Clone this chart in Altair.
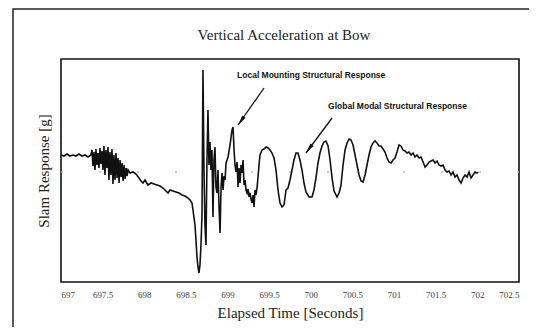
import altair as alt
import pandas as pd

# Elapsed time [s] and slam response [g]
time_s = [
    697.000, 697.036, 697.072, 697.108, 697.144, 697.180, 697.216, 697.252, 697.288, 697.324, 697.360,
    697.372, 697.384, 697.396, 697.408, 697.420, 697.432, 697.444, 697.456, 697.468, 697.480,
    697.492, 697.504, 697.516, 697.528, 697.540, 697.552, 697.564, 697.576, 697.588, 697.600,
    697.612, 697.624, 697.636, 697.649, 697.661, 697.673, 697.685, 697.697, 697.709, 697.721,
    697.733, 697.745, 697.757, 697.769, 697.781, 697.793, 697.805,
    697.829, 697.865, 697.901, 697.937, 697.961, 697.985, 698.009, 698.045, 698.081, 698.117,
    698.153, 698.189, 698.225, 698.261, 698.285, 698.309, 698.345, 698.381, 698.417, 698.453,
    698.489, 698.525, 698.549, 698.573, 698.585, 698.609, 698.621, 698.633, 698.645, 698.657,
    698.669, 698.681, 698.693, 698.705, 698.717, 698.729, 698.741, 698.753, 698.765, 698.777,
    698.789, 698.801, 698.813, 698.825, 698.837, 698.849, 698.861, 698.873, 698.885, 698.897,
    698.910, 698.922, 698.934, 698.946, 698.958, 698.970, 698.982, 699.006, 699.030, 699.054,
    699.066, 699.078, 699.090, 699.102, 699.114, 699.126, 699.138, 699.150, 699.162, 699.174,
    699.186, 699.198, 699.210, 699.222, 699.234, 699.246, 699.258, 699.270, 699.282, 699.294,
    699.306, 699.318, 699.330, 699.342, 699.354, 699.366, 699.378, 699.390, 699.414, 699.438,
    699.462, 699.486, 699.510, 699.534, 699.558, 699.582, 699.606, 699.630, 699.654, 699.678,
    699.702, 699.726, 699.750, 699.774, 699.798, 699.822, 699.846, 699.870, 699.894, 699.918,
    699.942, 699.978, 700.014, 700.038, 700.062, 700.086, 700.110, 700.134, 700.158, 700.182,
    700.207, 700.231, 700.255, 700.279, 700.315, 700.339, 700.363, 700.387, 700.411, 700.435,
    700.459, 700.483, 700.507, 700.531, 700.555, 700.579, 700.603, 700.627, 700.651, 700.675,
    700.699, 700.723, 700.747, 700.771, 700.795, 700.819, 700.843, 700.867, 700.891, 700.915,
    700.939, 700.963, 700.987, 701.011, 701.035, 701.059, 701.083, 701.107, 701.131, 701.155,
    701.179, 701.204, 701.228, 701.252, 701.276, 701.300, 701.324, 701.348, 701.372, 701.396,
    701.420, 701.444, 701.468, 701.492, 701.516, 701.540, 701.564, 701.588, 701.612, 701.636,
    701.660, 701.684, 701.708, 701.732, 701.756, 701.780, 701.804, 701.828, 701.852, 701.876,
    701.900, 701.924, 701.948, 701.972, 701.996, 702.008,
]
response_g = [
    0.85, 0.80, 0.90, 0.80, 0.85, 0.80, 0.90, 0.80, 0.85, 0.75, 0.85,
    1.10, 0.30, 1.00, 0.10, 1.15, 0.35, 0.95, 0.20, 1.20, 0.40,
    1.05, 0.10, 1.30, -0.15, 1.10, 0.20, 1.25, -0.40, 1.00, -0.15,
    1.15, -0.60, 0.85, -0.40, 0.95, -0.30, 0.70, -0.55, 0.60, -0.25,
    0.45, -0.45, 0.35, -0.35, 0.20, -0.20, 0.10,
    -0.05, 0.00, -0.10, -0.30, -0.45, -0.55, -0.40, -0.65, -0.55, -0.60,
    -0.65, -0.70, -0.80, -0.95, -1.05, -0.90, -0.95, -1.00, -1.05, -1.15,
    -1.20, -1.30, -1.40, -1.55, -1.90, -2.65, -3.40, -4.25, -4.75, -5.05,
    -4.65, -3.65, -2.15, 5.10, 0.10, -2.65, -3.65, 0.60, 3.10, 0.35,
    1.50, 0.10, 1.10, -2.25, 0.60, 1.25, -0.75, -1.05, 0.10, -1.65,
    -3.05, -0.75, -0.05, -0.90, -0.20, -0.40, 0.45, 0.75, 1.35, 2.10,
    2.25, 1.10, 0.35, 0.00, 0.50, -0.75, 0.20, -0.55, 0.35, -0.05,
    0.60, -0.65, -0.40, -0.90, -1.05, -0.85, -1.25, -1.05, -1.35, -1.55,
    -1.15, -1.75, -0.90, -1.15, -0.80, -0.25, 0.35, 0.85, 1.10, 1.15,
    1.25, 1.20, 1.10, 0.95, 0.70, 0.10, -0.90, -1.55, -1.75, -1.65,
    -0.90, -0.80, -0.40, 0.10, 0.60, 0.95, 0.95, 0.60, 0.10, -0.55,
    -1.00, -1.25, -1.25, -0.90, -0.30, 0.45, 0.95, 1.30, 1.50, 1.55,
    1.30, 0.60, -0.30, -0.95, -1.25, -1.05, -0.65, 0.35, 1.10, 1.45,
    1.65, 1.60, 1.35, 0.85, 0.35, -0.15, -0.45, -0.50, -0.15, 0.35,
    0.85, 1.25, 1.45, 1.55, 1.45, 1.30, 1.30, 1.15, 1.00, 0.70,
    0.50, 0.45, 0.60, 0.70, 1.00, 1.35, 1.30, 1.10, 1.05, 0.95,
    1.00, 0.85, 0.95, 0.75, 0.85, 0.70, 0.75, 0.50, 0.25, 0.35,
    0.50, 0.55, 0.60, 0.45, 0.55, 0.35, 0.30, 0.35, 0.10, 0.00,
    0.05, -0.15, 0.00, -0.25, -0.15, -0.40, -0.55, -0.30, -0.15, -0.25,
    0.00, -0.30, -0.15, 0.00, -0.05, 0.00,
]

x_ticks = [697, 697.5, 698, 698.5, 699, 699.5, 700, 700.5, 701, 701.5, 702, 702.5]

chart_title = "Vertical Acceleration at Bow"

note_text = ["Local Mounting Structural Response", "Global Modal Structural Response"]
note_t = [699.114, 700.207]
note_v = [4.85, 3.30]
arrow_t0 = [699.438, 700.255]
arrow_v0 = [4.20, 2.70]
arrow_t1 = [699.126, 699.942]
arrow_v1 = [2.35, 0.95]
head_t = [699.161, 699.977]
head_v = [2.555, 1.155]
head_angle = [215, 217]

df = pd.DataFrame({"t": time_s, "g": response_g})
notes = pd.DataFrame({"text": note_text, "t": note_t, "v": note_v})
arrows = pd.DataFrame({"t0": arrow_t0, "v0": arrow_v0, "t1": arrow_t1, "v1": arrow_v1,
                       "ht": head_t, "hv": head_v, "ang": head_angle})

xscale = alt.Scale(domain=[697, 702.5], nice=False, zero=False)
yscale = alt.Scale(domain=[-5.5, 5.65], nice=False, zero=False)

line = alt.Chart(df).mark_line(color="#111111", strokeWidth=1.6, clip=True).encode(
    x=alt.X("t:Q", scale=xscale,
            axis=alt.Axis(values=x_ticks, labelExpr="datum.value", title="Elapsed Time  [Seconds]",
                          grid=False, domain=False, ticks=False, labelPadding=8,
                          labelFont="Liberation Serif", labelFontSize=9, labelColor="#444444",
                          titleFont="Liberation Serif", titleFontSize=15, titleFontWeight="normal",
                          titleColor="#222222", titlePadding=6)),
    y=alt.Y("g:Q", scale=yscale,
            axis=alt.Axis(labels=False, ticks=False, domain=False, grid=False,
                          title="Slam Response  [g]", titleFont="Liberation Serif",
                          titleFontSize=15, titleFontWeight="normal", titleColor="#222222",
                          titlePadding=10)),
)

zero_rule = alt.Chart(pd.DataFrame({"v": [0.0]})).mark_rule(
    color="#bbbbbb", strokeDash=[2, 36], strokeWidth=1.5).encode(y=alt.Y("v:Q", scale=yscale))

outer = alt.Chart(pd.DataFrame({"a": [0]})).mark_rect(
    fill=None, stroke="#222222", strokeWidth=1.5, clip=False).encode(
    x=alt.value(-48), x2=alt.value(700), y=alt.value(-50), y2=alt.value(500))

title_mark = alt.Chart(pd.DataFrame({"text": [chart_title]})).mark_text(
    font="Liberation Serif", fontSize=15, color="#222222", align="center", baseline="middle").encode(
    x=alt.value(223), y=alt.value(-24), text="text:N")

arrow_lines = alt.Chart(arrows).mark_rule(color="#111111", strokeWidth=1.3).encode(
    x=alt.X("t0:Q", scale=xscale), y=alt.Y("v0:Q", scale=yscale),
    x2="t1:Q", y2="v1:Q")

arrow_heads = alt.Chart(arrows).mark_point(
    shape="M0,-1 L0.38,1 L-0.38,1 Z", filled=True, color="#111111", opacity=1, size=110).encode(
    x=alt.X("ht:Q", scale=xscale), y=alt.Y("hv:Q", scale=yscale), angle=alt.Angle("ang:Q", scale=None))

note_marks = alt.Chart(notes).mark_text(
    align="left", baseline="middle", font="Liberation Sans", fontSize=8.5, fontWeight="bold",
    color="#111111").encode(
    x=alt.X("t:Q", scale=xscale), y=alt.Y("v:Q", scale=yscale), text="text:N")

chart = alt.layer(outer, title_mark, zero_rule, line, arrow_lines, arrow_heads, note_marks).properties(
    width=458, height=223,
    autosize=alt.AutoSizeParams(type="none"),
    padding={"left": 53, "top": 51, "right": 10, "bottom": 45},
    background="white",
).configure_view(stroke="#111111", strokeWidth=1.6)

chart.save("out.html", embed_options={"renderer": "svg", "actions": False})
